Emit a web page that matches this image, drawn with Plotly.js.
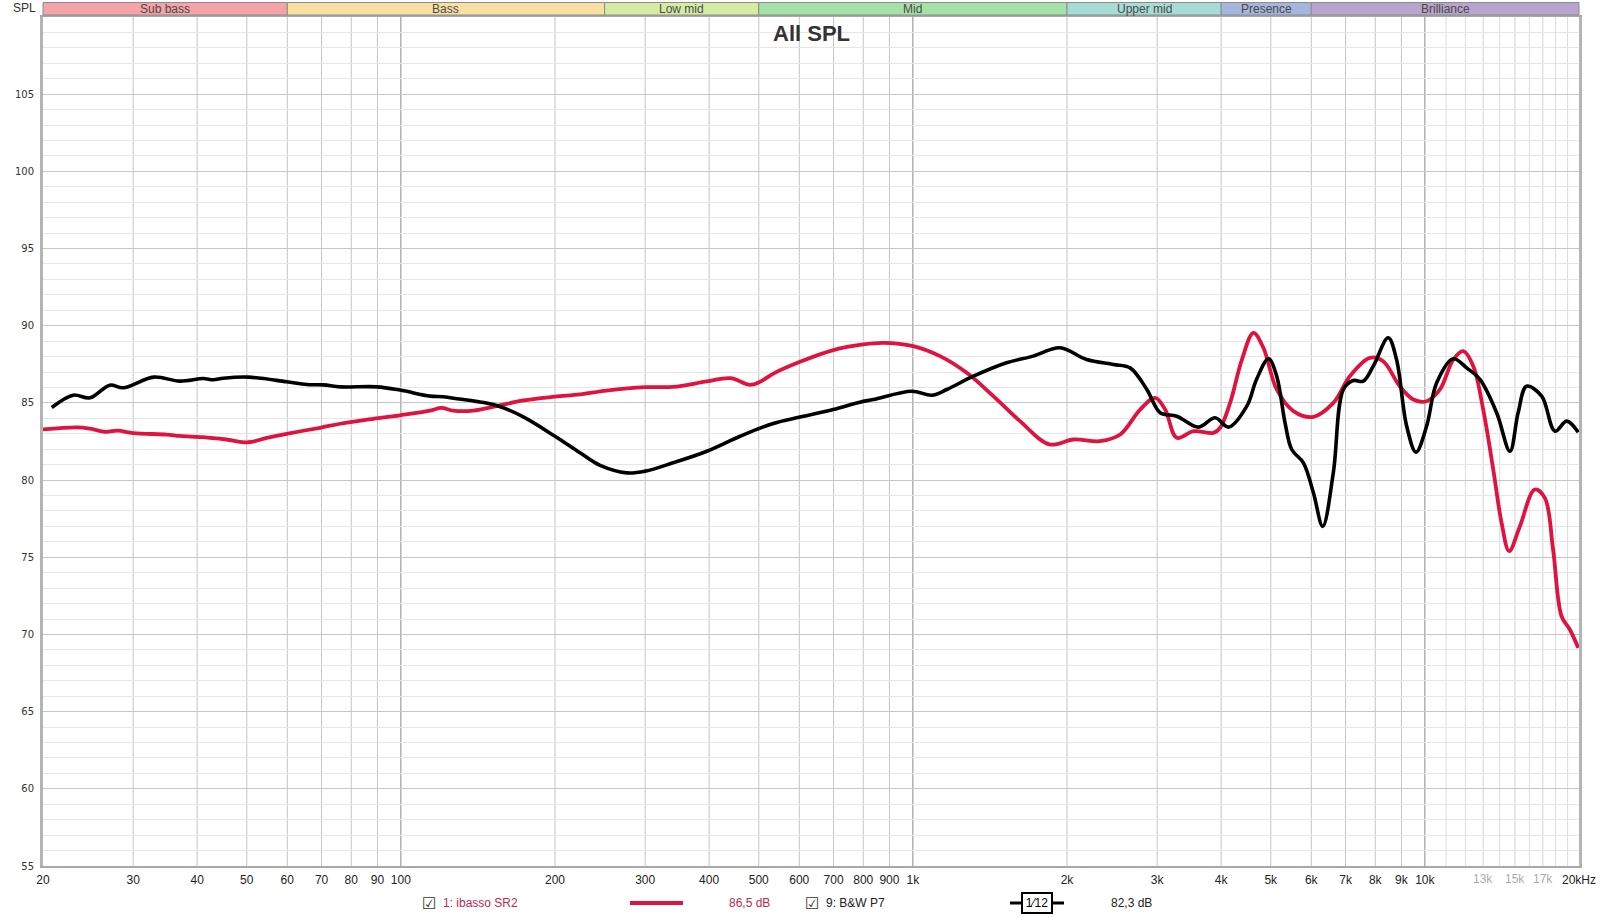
<!DOCTYPE html>
<html>
<head>
<meta charset="utf-8">
<script src="https://cdn.plot.ly/plotly-3.0.1.min.js"></script>
<style>html,body{margin:0;padding:0;background:#fff;}#chart{width:1600px;height:917px;}</style>
</head>
<body>
<div id="chart"></div>
<script>
// ---- Data ----
const redFreq = [20,23.3,24.7,26.5,28,30,34.9,37,41.1,45.6,50.4,54.7,59.8,69.5,76.1,88.3,99.6,114,120,126.5,138.5,153.8,173.4,200,223.8,252,300,340,396,440,481,503,534,602,699,800,876,1001,1130,1274,1436,1619,1848,2059,2320,2540,2779,2974,3110,3277,3532,3865,3983,4165,4392,4626,4837,5136,5536,6057,6625,7136,7807,8289,8933,9491,10080,10702,11364,11886,12432,13000,13600,14120,14610,15330,16390,17150,17800,18490,19190,19930];
const redDb = [83.28,83.41,83.33,83.13,83.2,83.04,82.95,82.86,82.78,82.63,82.45,82.74,83.0,83.39,83.65,83.97,84.2,84.5,84.68,84.5,84.5,84.79,85.16,85.4,85.55,85.8,86.02,86.04,86.39,86.6,86.17,86.37,86.9,87.66,88.42,88.79,88.89,88.68,88.03,86.95,85.44,83.82,82.31,82.63,82.52,82.95,84.57,85.33,84.57,82.74,83.17,83.06,83.39,85.0,87.81,89.54,88.57,85.87,84.47,84.1,85.0,86.73,87.92,87.7,86.08,85.22,85.11,85.87,87.81,88.35,87.38,84.57,80.69,77.23,75.4,77.0,79.39,78.85,75.5,71.18,70.32,69.14];

const blackFreq = [20.8,22.9,24.7,27,28.7,32.9,37,41.1,43,45,50.4,59.8,65.5,70.6,76.1,89.7,99.6,114,121,130,140,153.8,173.4,200,223.8,245,276,300,340,396,460,534,602,699,788,837,995,1089,1165,1313,1524,1718,1937,2184,2464,2656,2864,3041,3277,3613,3893,4137,4490,4690,4951,5136,5332,5495,5791,6057,6317,6625,6930,7247,7580,7928,8480,8803,9213,9608,10080,10545,11364,12066,12810,13810,14660,15210,15800,16910,17950,18930,19930];
const blackDb = [84.7,85.5,85.33,86.15,85.98,86.67,86.41,86.58,86.5,86.6,86.67,86.37,86.19,86.17,86.04,86.04,85.83,85.44,85.4,85.25,85.1,84.83,84.1,82.84,81.77,80.95,80.47,80.58,81.12,81.87,82.84,83.67,84.08,84.57,85.05,85.22,85.76,85.5,85.87,86.73,87.6,88.03,88.57,87.81,87.49,87.27,85.87,84.36,84.14,83.43,84.04,83.43,84.79,86.52,87.86,86.73,83.71,81.98,81.12,79.18,77.0,80.47,85.87,86.45,86.41,87.38,89.22,87.81,83.5,81.81,83.5,86.3,87.86,87.27,86.52,84.36,81.87,84.36,86.08,85.44,83.17,83.82,83.1];

const xTickVals = [20,30,40,50,60,70,80,90,100,200,300,400,500,600,700,800,900,1000,2000,3000,4000,5000,6000,7000,8000,9000,10000,20000];
const xTickText = ['20','30','40','50','60','70','80','90','100','200','300','400','500','600','700','800','900','1k','2k','3k','4k','5k','6k','7k','8k','9k','10k','20kHz'];
const xGrayTickVals = [13000,15000,17000];
const xGrayTickText = ['13k','15k','17k'];
const xFineGrid = [11000,12000,13000,14000,15000,16000,17000,18000,19000];
const yTickVals = [55,60,65,70,75,80,85,90,95,100,105];

const bandNames = ['Sub bass','Bass','Low mid','Mid','Upper mid','Presence','Brilliance'];
const bandEdges = [20,60,250,500,2000,4000,6000,20000];

const legendRedName = '1: ibasso SR2';
const legendRedValue = '86,5 dB';
const legendBlackName = '9: B&W P7';
const legendBlackValue = '82,3 dB';
const smoothingLabel = '1⁄12';

// ---- Styles ----
const bandColors = ['#f5a3a6','#f8dfa2','#d6eba4','#a6e2a8','#a6dcd4','#a4b6de','#b8a4cc'];
const RED = '#e0123e';
const L = 43, R = 1579, T = 17, B = 866;
const px2x = p => (p - L) / (R - L);
const px2y = p => (B - p) / (B - T);
const fx = f => (Math.log10(f) - Math.log10(20)) / 3;
const narrow = '"Liberation Sans Narrow", "Arial Narrow", "Liberation Sans", Arial, sans-serif';

const shapes = [];
const annotations = [];

// vertical grid
xTickVals.concat(xGrayTickVals).forEach(f => {
  if (f === 20 || f === 20000) return;
  const decade = (f === 100 || f === 1000 || f === 10000);
  const fine = f > 10000;
  shapes.push({type:'line', xref:'paper', yref:'paper', x0:fx(f), x1:fx(f), y0:0, y1:1, layer:'below',
    line:{color: decade ? '#8a8a8a' : (fine ? '#d4d4d4' : '#c4c4c4'), width:1}});
});
xFineGrid.forEach(f => {
  if (xGrayTickVals.includes(f)) return;
  shapes.push({type:'line', xref:'paper', yref:'paper', x0:fx(f), x1:fx(f), y0:0, y1:1, layer:'below',
    line:{color:'#dcdcdc', width:1}});
});

// gray tick labels
xGrayTickVals.forEach((f, i) => {
  annotations.push({xref:'paper', yref:'paper', x:fx(f), y:px2y(879), text:xGrayTickText[i], showarrow:false,
    xanchor:'center', yanchor:'middle', font:{family:narrow, size:12, color:'#ababab'}});
});

// bands
bandNames.forEach((n, i) => {
  const a = fx(bandEdges[i]), b = fx(bandEdges[i+1]);
  shapes.push({type:'rect', xref:'paper', yref:'paper', x0:a, x1:b, y0:px2y(15), y1:px2y(2.5),
    fillcolor:bandColors[i], line:{color:'#8c8c8c', width:1}});
  annotations.push({xref:'paper', yref:'paper', x:(a+b)/2, y:px2y(8.8), text:n, showarrow:false,
    xanchor:'center', yanchor:'middle', font:{family:narrow, size:12, color:'#4a4a4a'}});
});

// title & SPL label
annotations.push({xref:'paper', yref:'paper', x:px2x(811), y:px2y(33), text:'<b>All SPL</b>', showarrow:false,
  xanchor:'center', yanchor:'middle', font:{family:'"Liberation Sans", Arial, sans-serif', size:22, color:'#333'}});
annotations.push({xref:'paper', yref:'paper', x:px2x(38), y:px2y(8.5), text:'SPL', showarrow:false,
  xanchor:'right', yanchor:'middle', font:{family:narrow, size:12, color:'#333'}});

// legend
const ly = px2y(903);
annotations.push({xref:'paper', yref:'paper', x:px2x(428.5), y:ly, text:'☑', showarrow:false, xanchor:'center', yanchor:'middle',
  font:{family:'"DejaVu Sans", sans-serif', size:16, color:'#333'}});
annotations.push({xref:'paper', yref:'paper', x:px2x(441), y:ly, text:legendRedName, showarrow:false, xanchor:'left', yanchor:'middle',
  font:{family:narrow, size:12, color:'#c02a4a'}});
shapes.push({type:'line', xref:'paper', yref:'paper', x0:px2x(630), x1:px2x(683), y0:ly, y1:ly, line:{color:RED, width:4}});
annotations.push({xref:'paper', yref:'paper', x:px2x(727), y:ly, text:legendRedValue, showarrow:false, xanchor:'left', yanchor:'middle',
  font:{family:narrow, size:12, color:'#c02a4a'}});
annotations.push({xref:'paper', yref:'paper', x:px2x(811.5), y:ly, text:'☑', showarrow:false, xanchor:'center', yanchor:'middle',
  font:{family:'"DejaVu Sans", sans-serif', size:16, color:'#333'}});
annotations.push({xref:'paper', yref:'paper', x:px2x(824), y:ly, text:legendBlackName, showarrow:false, xanchor:'left', yanchor:'middle',
  font:{family:narrow, size:12, color:'#222'}});
shapes.push({type:'line', xref:'paper', yref:'paper', x0:px2x(1010), x1:px2x(1064), y0:ly, y1:ly, line:{color:'#000', width:3}});
annotations.push({xref:'paper', yref:'paper', x:px2x(1037), y:ly, text:smoothingLabel, showarrow:false, xanchor:'center', yanchor:'middle',
  bgcolor:'#fff', bordercolor:'#000', borderwidth:2, borderpad:2, width:24, font:{family:narrow, size:12, color:'#000'}});
annotations.push({xref:'paper', yref:'paper', x:px2x(1109), y:ly, text:legendBlackValue, showarrow:false, xanchor:'left', yanchor:'middle',
  font:{family:narrow, size:12, color:'#222'}});

const traces = [
  {x:redFreq, y:redDb, type:'scatter', mode:'lines', line:{color:RED, width:3.8, shape:'spline', smoothing:1}, hoverinfo:'skip'},
  {x:blackFreq, y:blackDb, type:'scatter', mode:'lines', line:{color:'#000', width:3.6, shape:'spline', smoothing:1}, hoverinfo:'skip'}
];

const layout = {
  width:1600, height:917,
  margin:{l:L, r:1600-R, t:T, b:917-B, pad:0},
  paper_bgcolor:'#fff', plot_bgcolor:'rgba(0,0,0,0)',
  showlegend:false,
  xaxis:{type:'log', range:[Math.log10(20), Math.log10(20000)], tickmode:'array', tickvals:xTickVals, ticktext:xTickText,
    showgrid:false, zeroline:false, showline:true, linecolor:'#a8a8a8', linewidth:2, mirror:true, ticks:'',
    tickfont:{family:narrow, size:12, color:'#222'}, ticklabelstandoff:2},
  yaxis:{range:[55,110], tickmode:'array', tickvals:yTickVals, showgrid:true, gridcolor:'#c6c6c6', gridwidth:1,
    minor:{dtick:1, tick0:55, showgrid:true, gridcolor:'#e6e6e6', gridwidth:1, ticks:''},
    zeroline:false, showline:true, linecolor:'#b4b4b4', linewidth:3, mirror:true, ticks:'',
    tickfont:{family:'"DejaVu Sans", Verdana, sans-serif', size:10, color:'#333'}, ticklabelstandoff:4},
  shapes:shapes,
  annotations:annotations
};

Plotly.newPlot('chart', traces, layout, {displayModeBar:false, staticPlot:true});
</script>
</body>
</html>
